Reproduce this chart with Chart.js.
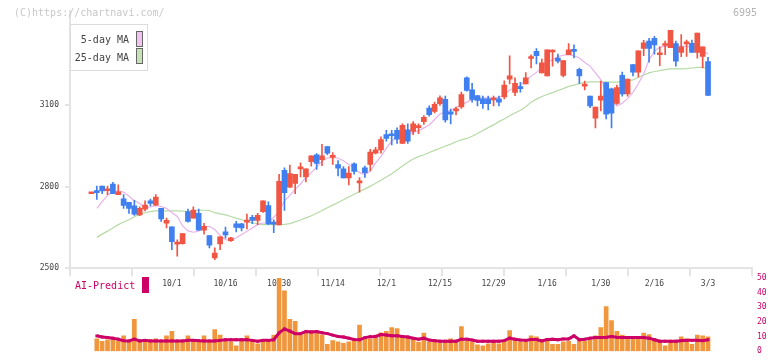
<!DOCTYPE html>
<html>
<head>
<meta charset="utf-8">
<script src="https://cdn.jsdelivr.net/npm/chart.js@4/dist/chart.umd.min.js"></script>
<style>
  html, body { margin: 0; padding: 0; background: #fff; }
  #wrap { position: relative; width: 772px; height: 361px; overflow: hidden; font-family: 'DejaVu Sans Mono', monospace; }
  #wrap canvas { position: absolute; left: 0; top: 0; }
  .txt { position: absolute; font-size: 10px; line-height: 12px; white-space: nowrap; }
  .legend { position: absolute; left: 70px; top: 24px; width: 78px; height: 47px; box-sizing: border-box; border: 1px solid #dcdcdc; background: #fff; }
  .sw { position: absolute; width: 7px; height: 16px; box-sizing: border-box; border: 1px solid #666; }
</style>
</head>
<body>
<div id="wrap">
  <canvas id="priceChart" width="772" height="361"></canvas>
  <div class="txt" style="left:14px;top:7px;color:#c8c8c8">(C)https://chartnavi.com/</div>
  <div class="txt" style="left:733px;top:7px;color:#b4b4b4">6995</div>
  <div class="legend"></div>
  <div class="txt" style="left:70px;top:34px;width:59px;text-align:right;color:#444">5-day MA</div>
  <div class="txt" style="left:70px;top:52px;width:59px;text-align:right;color:#444">25-day MA</div>
  <div class="sw" style="left:136px;top:31px;background:#f0c4f0"></div>
  <div class="sw" style="left:136px;top:48px;background:#c4e2b4"></div>
  <canvas id="volChart" width="772" height="361"></canvas>
  <div class="txt" style="left:75px;top:280px;color:#cc0066">AI-Predict</div>
  <div style="position:absolute;left:142px;top:277px;width:7px;height:16px;background:#cc0066"></div>
</div>
<script>
// 日足データ (index 0 = 最初のローソク)
const opens = [
  2774,2784,2802,2785,2810,2771,2755,2742,2729,2696,
  2717,2748,2732,2720,2665,2652,2588,2590,2708,2684,
  2702,2640,2620,2537,2589,2633,2601,2663,2663,2669,
  2687,2676,2708,2730,2667,2659,2860,2798,2812,2866,
  2836,2892,2918,2900,2948,2908,2882,2866,2832,2884,
  2814,2870,2882,2924,2936,2992,2992,3008,2960,3010,
  3004,3018,3040,3090,3078,3106,3122,3076,3080,3094,
  3202,3157,3136,3124,3124,3120,3124,3131,3197,3148,
  3166,3179,3273,3299,3220,3209,3297,3275,3211,3287,
  3303,3233,3171,3134,3053,3119,3184,3161,3107,3211,
  3142,3251,3223,3310,3337,3347,3287,3321,3313,3328,
  3295,3327,3329,3295,3281,3262
];
const highs = [
  2777,2802,2802,2802,2816,2807,2771,2742,2750,2726,
  2748,2754,2771,2720,2684,2652,2604,2627,2717,2726,
  2717,2665,2620,2574,2615,2651,2613,2672,2665,2699,
  2694,2702,2748,2744,2678,2846,2870,2880,2846,2888,
  2866,2914,2922,2956,2948,2926,2896,2874,2874,2888,
  2834,2876,2938,2945,2984,3008,3008,3017,3032,3032,
  3040,3032,3062,3098,3112,3135,3134,3086,3094,3149,
  3205,3181,3136,3134,3134,3134,3134,3191,3283,3202,
  3185,3221,3287,3310,3271,3305,3305,3289,3265,3328,
  3323,3238,3190,3134,3094,3190,3184,3164,3175,3223,
  3197,3251,3301,3340,3347,3355,3316,3337,3377,3337,
  3361,3341,3341,3367,3316,3277
];
const lows = [
  2774,2753,2774,2771,2774,2771,2720,2701,2694,2693,
  2711,2729,2732,2672,2648,2568,2544,2588,2669,2684,
  2640,2625,2574,2531,2568,2610,2598,2633,2637,2644,
  2664,2660,2705,2660,2630,2659,2712,2796,2774,2836,
  2818,2876,2864,2878,2918,2882,2840,2832,2807,2846,
  2780,2834,2858,2921,2924,2968,2954,2960,2960,2960,
  2992,2996,3030,3060,3072,3100,3038,3032,3065,3089,
  3152,3112,3098,3089,3083,3098,3098,3124,3179,3136,
  3149,3179,3238,3253,3220,3209,3245,3257,3205,3287,
  3275,3181,3157,3092,3017,3080,3050,3017,3104,3134,
  3134,3209,3205,3283,3259,3289,3247,3287,3313,3245,
  3280,3281,3295,3274,3238,3137
];
const closes = [
  2777,2778,2784,2792,2774,2781,2731,2720,2699,2720,
  2732,2738,2762,2681,2676,2597,2591,2627,2672,2714,
  2640,2654,2584,2555,2615,2622,2611,2650,2648,2673,
  2676,2694,2748,2663,2662,2820,2778,2848,2846,2870,
  2866,2914,2886,2914,2924,2912,2868,2832,2850,2856,
  2818,2852,2928,2936,2974,2978,2988,2975,3026,2968,
  3032,3022,3056,3066,3104,3128,3046,3068,3085,3140,
  3155,3122,3118,3106,3106,3124,3112,3175,3209,3181,
  3162,3202,3277,3283,3257,3305,3301,3263,3265,3305,
  3299,3209,3175,3098,3094,3134,3068,3071,3166,3142,
  3197,3223,3301,3331,3310,3323,3291,3325,3377,3263,
  3316,3331,3295,3367,3316,3137
];
const ma5 = [
  null,2720,2745,2768,2783,2784,2780,2765,2748,2738,
  2722,2725,2730,2727,2720,2705,2690,2655,2637,2632,
  2636,2652,2654,2642,2620,2605,2600,2612,2624,2636,
  2648,2660,2666,2666,2688,2708,2748,2768,2790,2810,
  2834,2852,2872,2894,2906,2908,2905,2896,2882,2870,
  2852,2845,2858,2888,2912,2942,2968,2984,2990,2994,
  3000,3006,3017,3028,3048,3068,3076,3082,3092,3101,
  3112,3122,3126,3128,3128,3128,3130,3137,3157,3165,
  3173,3193,3208,3221,3241,3259,3268,3280,3285,3287,
  3283,3275,3258,3245,3220,3195,3160,3118,3098,3108,
  3126,3148,3180,3217,3268,3300,3315,3318,3319,3319,
  3319,3318,3316,3308,3300,3290
];
const ma25 = [
  null,2613,2625,2636,2648,2660,2670,2678,2689,2698,
  2704,2708,2711,2711,2711,2711,2711,2710,2708,2710,
  2714,2713,2712,2704,2700,2696,2690,2684,2678,2672,
  2667,2663,2660,2660,2660,2660,2661,2664,2670,2677,
  2685,2693,2702,2712,2722,2732,2742,2752,2762,2772,
  2782,2792,2802,2813,2824,2836,2848,2862,2876,2890,
  2902,2911,2918,2926,2934,2942,2950,2957,2966,2973,
  2978,2986,2996,3007,3018,3028,3040,3050,3062,3072,
  3082,3095,3112,3123,3133,3140,3147,3155,3162,3170,
  3175,3180,3185,3187,3187,3187,3187,3186,3186,3188,
  3190,3194,3203,3212,3220,3225,3228,3232,3235,3235,
  3235,3236,3238,3240,3240,3236
];
const volume = [
  null,8.5,6.8,7.8,8.2,6.8,10.5,6.8,21.8,6.8,
  7.8,7.8,8.5,6.8,10.5,13.5,6.8,6.8,10.5,6.8,
  6.4,10.5,6.8,14.7,11,6.8,6.4,3.6,6.8,10.5,
  7.8,5.1,6.8,7.8,11,50,41.3,21.8,20.4,11,
  12.6,14.1,12.6,11,4.7,7.2,6.4,5.3,6.4,7.4,
  17.9,8.5,8.5,11,12.6,13.5,16.2,15.4,9.9,9.3,
  8.5,6.2,12.4,6.2,7.8,5.3,6.8,8.5,6.4,16.8,
  6.8,6.2,4.3,3.6,5.1,6.8,5.1,6.8,14.1,8.5,
  6.2,7.2,10.5,9.9,6.8,8.2,4.7,4.7,6.4,6.8,
  4.7,7.8,6.8,7.8,10.5,16.2,30.4,21,13.5,11,
  9.9,9.3,9.3,12.4,11.4,8.5,6.8,3.6,6.8,6.4,
  9.9,8.5,4.7,11,10.5,9.9
];
const aiPredict = [
  null,10.5,9.7,9.3,8.9,8.2,7.2,7.0,8.2,7.0,
  7.4,7.0,7.0,7.0,7.0,7.0,7.0,7.0,7.4,7.4,
  7.2,7.0,7.0,7.0,7.4,7.8,7.8,7.8,7.8,7.8,
  7.4,6.8,7.4,7.4,7.8,12.6,15.2,13.7,12,12,
  13.5,13.1,13.5,12.6,12,11,10.1,9.7,8.9,8,
  7.8,9.3,9.9,10.1,11.4,11,10.5,10.5,10.1,9.7,
  8.9,8.2,8.9,7.6,7.2,6.8,6.8,6.8,6.8,8.2,
  8.2,7.6,6.8,6.8,6.8,6.8,6.8,7.2,8.9,8.2,
  7.6,7.4,8,8,7,8,8.2,7.8,8.4,8.4,
  10.5,7.8,8.2,8.9,9.3,9.3,9.5,10.1,9.5,9.3,
  9.3,9.3,9.3,9.3,8.9,7.8,6.8,6.8,6.8,6.8,
  7.2,7.4,7.4,7.4,7.2,7.8
];
const dateLabels = ['10/1','10/16','10/30','11/14','12/1','12/15','12/29','1/16','1/30','2/16','3/3'];
const datePos = [15,25,35,45,55,65,75,85,95,105,115];
const priceTicks = [2500, 2800, 3100];
const volTicks = [0, 10, 20, 30, 40, 50];

const UP = '#f15543', DOWN = '#3f7fef';
const FONT = { family: "'DejaVu Sans Mono', monospace", size: 8 };
const X_MIN = -4, X_MAX = 123.2;
const AXIS = '#e4e4e4';

const candleColors = closes.map((c, i) => c >= opens[i] ? UP : DOWN);
const pts = arr => arr.map((v, i) => ({ x: i, y: v }));

new Chart(document.getElementById('priceChart'), {
  type: 'bar',
  data: {
    datasets: [
      { type: 'line', label: '25-day MA', data: pts(ma25), borderColor: '#b6dba6', borderWidth: 1.2, pointRadius: 0, order: 4 },
      { type: 'line', label: '5-day MA', data: pts(ma5), borderColor: '#e8b2ea', borderWidth: 1.2, pointRadius: 0, order: 3 },
      { label: 'wick', data: highs.map((h, i) => ({ x: i, y: [lows[i], h] })), backgroundColor: candleColors,
        barThickness: 1, grouped: false, order: 2 },
      { label: 'body', data: opens.map((o, i) => ({ x: i, y: [o, closes[i]] })), backgroundColor: candleColors,
        barThickness: 5, minBarLength: 2, grouped: false, order: 1 }
    ]
  },
  options: {
    responsive: false, animation: false, events: [],
    layout: { padding: { top: 4, right: 20, left: 0, bottom: 0 } },
    plugins: { legend: { display: false }, tooltip: { enabled: false } },
    scales: {
      x: {
        type: 'linear', min: X_MIN, max: X_MAX, offset: false,
        afterBuildTicks: s => {
          const t = [];
          for (let k = 0; k <= 11; k++) t.push({ value: X_MIN + k * (X_MAX - X_MIN) / 11, mark: true });
          datePos.forEach((p, j) => t.push({ value: p, lbl: dateLabels[j] }));
          s.ticks = t;
        },
        afterFit: s => { s.height = 93; },
        ticks: { autoSkip: false, maxRotation: 0, padding: 3, color: '#444', font: FONT,
          callback: (v, i, ticks) => ticks[i].lbl || '' },
        grid: { offset: false, drawOnChartArea: false, tickLength: 8, lineWidth: 2,
          color: c => (c.tick && c.tick.mark) ? AXIS : 'rgba(0,0,0,0)' },
        border: { color: AXIS, width: 2 }
      },
      y: {
        min: 2500, max: 3449,
        afterBuildTicks: s => { s.ticks = priceTicks.map(v => ({ value: v })); },
        afterFit: s => { s.width = 70; },
        ticks: { padding: 6, color: '#444', font: FONT, callback: v => String(v) },
        grid: { drawOnChartArea: false, tickLength: 5, lineWidth: 2, color: AXIS },
        border: { color: AXIS, width: 2 }
      }
    }
  }
});

new Chart(document.getElementById('volChart'), {
  type: 'bar',
  data: {
    datasets: [
      { type: 'line', label: 'AI-Predict', data: pts(aiPredict), borderColor: '#cc0066', borderWidth: 3,
        pointStyle: 'rect', pointRadius: 2, pointBackgroundColor: '#cc0066', pointBorderWidth: 0, order: 1 },
      { label: 'volume', data: pts(volume), backgroundColor: '#f0963c', barThickness: 4, order: 2 }
    ]
  },
  options: {
    responsive: false, animation: false, events: [],
    layout: { padding: { top: 278, right: 0, left: 70, bottom: 3 } },
    plugins: { legend: { display: false }, tooltip: { enabled: false } },
    scales: {
      x: { type: 'linear', min: X_MIN, max: X_MAX, offset: false, display: false },
      y: {
        position: 'right', min: 0, max: 50,
        afterBuildTicks: s => { s.ticks = volTicks.map(v => ({ value: v })); },
        afterFit: s => { s.width = 20; },
        ticks: { padding: 5, color: '#cc0066', font: FONT, callback: v => String(v) },
        grid: { display: false, drawTicks: false },
        border: { display: false }
      }
    }
  }
});
</script>
</body>
</html>
